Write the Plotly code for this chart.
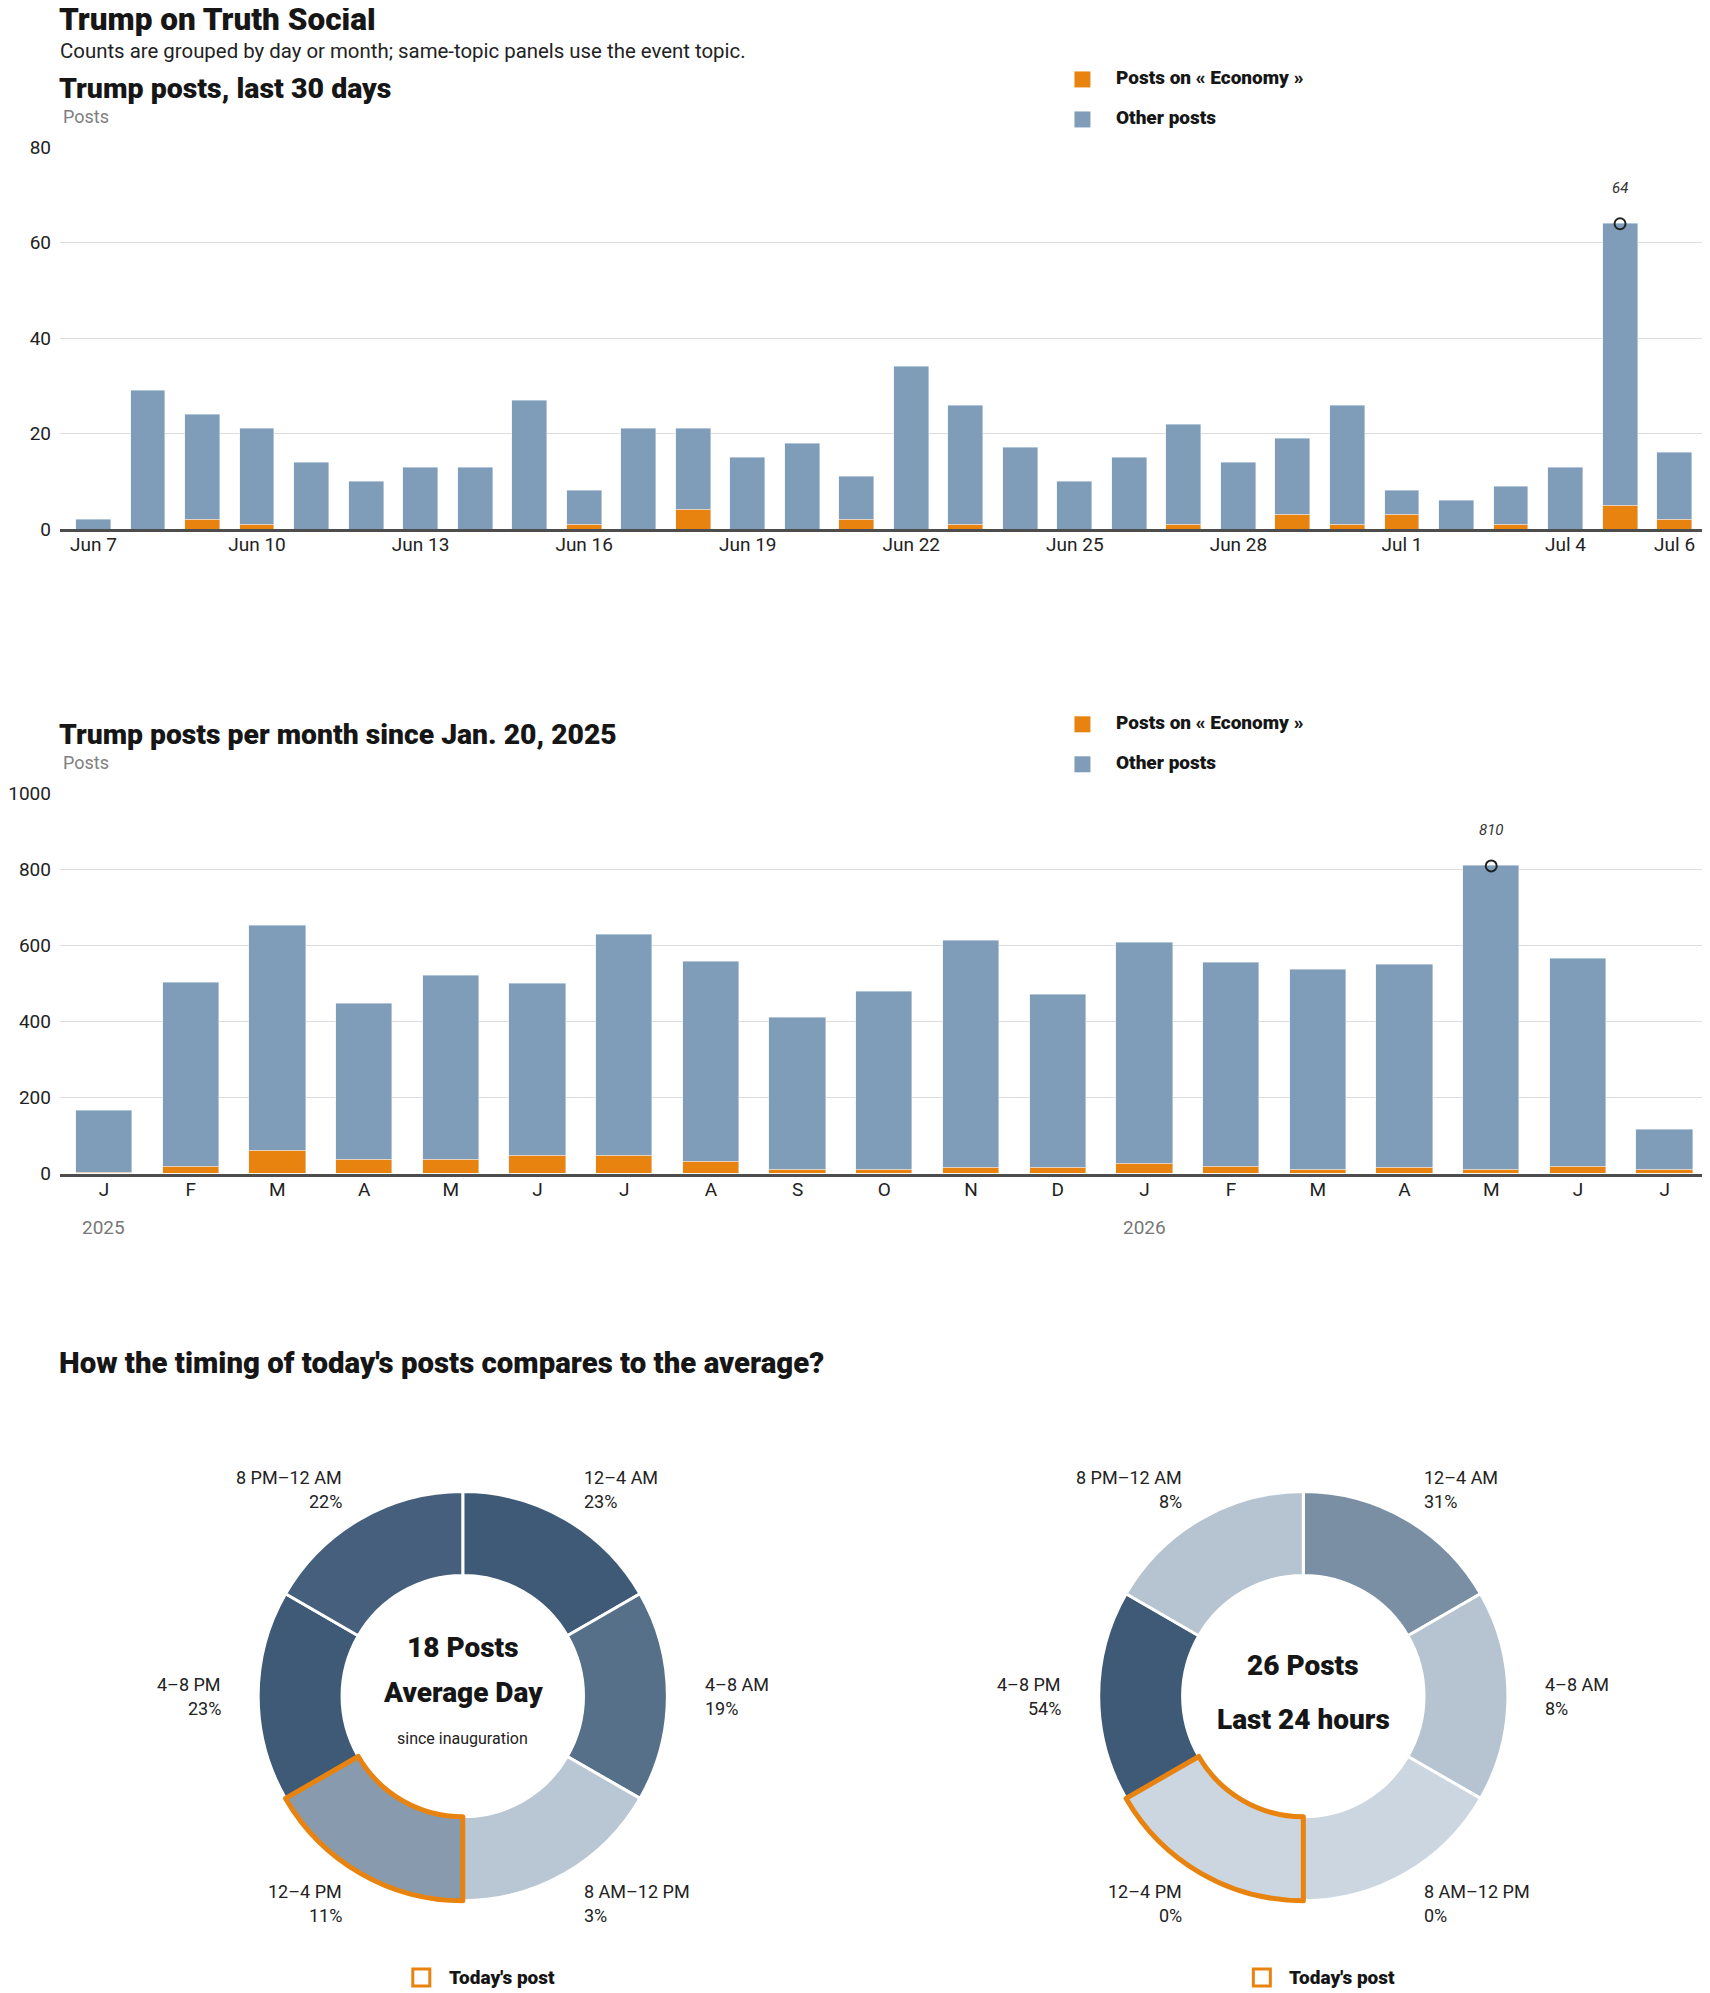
import plotly.graph_objects as go

# ─── Data ────────────────────────────────────────────────────────────────
DAYS = [
    "Jun 7", "Jun 8", "Jun 9", "Jun 10", "Jun 11", "Jun 12", "Jun 13",
    "Jun 14", "Jun 15", "Jun 16", "Jun 17", "Jun 18", "Jun 19", "Jun 20",
    "Jun 21", "Jun 22", "Jun 23", "Jun 24", "Jun 25", "Jun 26", "Jun 27",
    "Jun 28", "Jun 29", "Jun 30", "Jul 1", "Jul 2", "Jul 3", "Jul 4",
    "Jul 5", "Jul 6",
]
DAY_TOTAL = [2, 29, 24, 21, 14, 10, 13, 13, 27, 8, 21, 21, 15, 18, 11,
             34, 26, 17, 10, 15, 22, 14, 19, 26, 8, 6, 9, 13, 64, 16]
DAY_ECON = [0, 0, 2, 1, 0, 0, 0, 0, 0, 1, 0, 4, 0, 0, 2,
            0, 1, 0, 0, 0, 1, 0, 3, 1, 3, 0, 1, 0, 5, 2]
DAY_TICKS = ["Jun 7", "Jun 10", "Jun 13", "Jun 16", "Jun 19", "Jun 22",
             "Jun 25", "Jun 28", "Jul 1", "Jul 4", "Jul 6"]

MONTHS = ["2025-01", "2025-02", "2025-03", "2025-04", "2025-05", "2025-06",
          "2025-07", "2025-08", "2025-09", "2025-10", "2025-11", "2025-12",
          "2026-01", "2026-02", "2026-03", "2026-04", "2026-05", "2026-06",
          "2026-07"]
MONTH_LETTERS = ["J", "F", "M", "A", "M", "J", "J", "A", "S", "O", "N", "D",
                 "J", "F", "M", "A", "M", "J", "J"]
MONTH_TOTAL = [165, 504, 654, 447, 520, 499, 628, 559, 412, 478, 612, 472,
               607, 556, 538, 549, 810, 567, 115]
MONTH_ECON = [2, 20, 60, 36, 38, 49, 49, 32, 10, 10, 16, 16,
              27, 20, 10, 16, 10, 18, 10]
YEARS = ["2025", "2026"]
YEAR_STARTS = ["2025-01", "2026-01"]

SLOTS = ["12–4 AM", "4–8 AM", "8 AM–12 PM", "12–4 PM", "4–8 PM", "8 PM–12 AM"]
AVG_SHARE = [23, 19, 3, 11, 23, 22]
TODAY_SHARE = [31, 8, 0, 0, 54, 8]
AVG_POSTS = 18
TODAY_POSTS = 26
CURRENT_SLOT = "12–4 PM"

# ─── Theme ───────────────────────────────────────────────────────────────
# positions below are in screenshot pixels; fx/fy turn them into figure
# pixels (page body margin + the capture's slight squeeze)
W, H, OFF = 1694, 2000, 8
X0, XS = 2.0, 0.997
Y0, YS = 18.55, 0.9887
ORANGE = "#e8830f"
BLUE = "#7f9db9"
INK = "#161616"
TICK = "#222222"
GRAY = "#808080"
GRID = "#dddddd"
AXIS = "#4d4d4d"
FONT = "Roboto, Arial, sans-serif"
LOW, HIGH = (203, 214, 225), (63, 90, 119)   # donut colour ramp

PLOT_L = 56
PLOT_R = X0 + XS * (W + OFF)                 # right edge of the figure


def fx(x):
    return (x - X0) / XS - OFF


def fy(y):
    return (y - Y0) / YS


def px(x):
    return fx(x) / W


def py(y):
    return 1 - fy(y) / H


def ramp(share, top):
    t = share / top if top else 0
    rgb = [round(a + (b - a) * t) for a, b in zip(LOW, HIGH)]
    return "rgb({},{},{})".format(*rgb)


def band_range(first_center, step):
    left = -(first_center - PLOT_L) / step
    return [left, left + (PLOT_R - PLOT_L) / step]


def text(fig, x, y, s, size, color=INK, weight=400, anchor="left", **kw):
    fig.add_annotation(
        x=px(x), y=py(y), xref="paper", yref="paper", text=s,
        showarrow=False, xanchor=anchor, yanchor="middle",
        font=dict(family=FONT, size=size, color=color, weight=weight), **kw)


def legend(fig, top):
    for i, (name, col) in enumerate([("Posts on « Economy »", ORANGE),
                                     ("Other posts", BLUE)]):
        yc = top + i * 40
        fig.add_shape(type="rect", xref="paper", yref="paper",
                      x0=px(1071), x1=px(1087), y0=py(yc - 8), y1=py(yc + 8),
                      fillcolor=col, line_width=0)
        text(fig, 1111, yc - 2, name, 19, weight=900)


fig = go.Figure()

# ─── Daily bars ──────────────────────────────────────────────────────────
day_other = [t - e for t, e in zip(DAY_TOTAL, DAY_ECON)]
fig.add_trace(go.Bar(x=DAYS, y=DAY_ECON, marker_color=ORANGE, width=0.64,
                     name="Posts on « Economy »", xaxis="x", yaxis="y"))
fig.add_trace(go.Bar(x=DAYS, y=day_other, marker_color=BLUE, width=0.64,
                     name="Other posts", xaxis="x", yaxis="y"))

# ─── Monthly bars ────────────────────────────────────────────────────────
month_other = [t - e for t, e in zip(MONTH_TOTAL, MONTH_ECON)]
fig.add_trace(go.Bar(x=MONTHS, y=MONTH_ECON, marker_color=ORANGE, width=0.65,
                     name="Posts on « Economy »", xaxis="x2", yaxis="y2"))
fig.add_trace(go.Bar(x=MONTHS, y=month_other, marker_color=BLUE, width=0.65,
                     name="Other posts", xaxis="x2", yaxis="y2"))

# peak markers + labels
for xs, ys, xa, ya in [(DAYS, DAY_TOTAL, "x", "y"),
                       (MONTHS, MONTH_TOTAL, "x2", "y2")]:
    k = ys.index(max(ys))
    fig.add_trace(go.Scatter(
        x=[xs[k]], y=[ys[k]], mode="markers", xaxis=xa, yaxis=ya,
        marker=dict(symbol="circle-open", size=11, color="#222",
                    line=dict(width=2, color="#222")),
        hoverinfo="skip"))
    fig.add_annotation(x=xs[k], y=ys[k], xref=xa, yref=ya,
                       text=f"<i>{ys[k]}</i>", showarrow=False, yshift=36,
                       font=dict(family=FONT, size=15, color="#333"))

# ─── Donuts ──────────────────────────────────────────────────────────────
R = 207                                      # figure pixels
LABEL_POS = [(119, -219, "left"), (240, -12, "left"), (119, 195, "left"),
             (-119, 195, "right"), (-240, -12, "right"), (-119, -219, "right")]
cur = SLOTS.index(CURRENT_SLOT)

for cx, shares in [(459, AVG_SHARE), (1300, TODAY_SHARE)]:
    cy = 1696
    dom = dict(x=[px(cx) - R / W, px(cx) + R / W],
               y=[py(cy) - R / H, py(cy) + R / H])
    top = max(shares)
    fig.add_trace(go.Pie(
        labels=SLOTS, values=[1] * len(SLOTS), customdata=shares,
        sort=False, direction="clockwise", rotation=0, hole=0.59,
        textinfo="none", domain=dom,
        marker=dict(colors=[ramp(s, top) for s in shares],
                    line=dict(color="white", width=3)),
        hovertemplate="%{label}: %{customdata}%<extra></extra>"))
    # orange outline on the current time slot
    fig.add_trace(go.Pie(
        labels=SLOTS, values=[1] * len(SLOTS), sort=False,
        direction="clockwise", rotation=0, hole=0.59, textinfo="none",
        domain=dom, hoverinfo="skip",
        marker=dict(colors=["rgba(0,0,0,0)"] * len(SLOTS),
                    line=dict(color=[ORANGE if i == cur else "rgba(0,0,0,0)"
                                     for i in range(len(SLOTS))],
                              width=[5 if i == cur else 0
                                     for i in range(len(SLOTS))]))))
    for (dx, dy, anchor), slot, s in zip(LABEL_POS, SLOTS, shares):
        text(fig, cx + dx, cy + dy, slot, 18, color="#222", anchor=anchor)
        text(fig, cx + dx, cy + dy + 24, f"{s}%", 18, color="#222",
             anchor=anchor)
    # "Today's post" key
    fig.add_shape(type="rect", xref="paper", yref="paper",
                  x0=px(cx - 50), x1=px(cx - 33), y0=py(1986), y1=py(1969),
                  fillcolor="rgba(0,0,0,0)", line=dict(color=ORANGE, width=3))
    text(fig, cx - 16, 1977, "Today's post", 19, weight=900)

text(fig, 459, 1647, f"{AVG_POSTS} Posts", 28, weight=900, anchor="center")
text(fig, 459, 1692, "Average Day", 28, weight=900, anchor="center")
text(fig, 459, 1738, "since inauguration", 16, color="#222", anchor="center")
text(fig, 1300, 1665, f"{TODAY_POSTS} Posts", 28, weight=900, anchor="center")
text(fig, 1300, 1719, "Last 24 hours", 28, weight=900, anchor="center")

# ─── Titles / labels ─────────────────────────────────────────────────────
text(fig, 53, 19, "Trump on Truth Social", 31.5, weight=900)
text(fig, 54, 51, "Counts are grouped by day or month; same-topic panels use "
     "the event topic.", 20.4, color="#222")
text(fig, 53, 88, "Trump posts, last 30 days", 28.5, weight=900)
text(fig, 57, 116, "Posts", 18, color=GRAY)
legend(fig, 79)

text(fig, 53, 734, "Trump posts per month since Jan. 20, 2025", 28.3,
     weight=900)
text(fig, 57, 762, "Posts", 18, color=GRAY)
legend(fig, 724)
for yr, start in zip(YEARS, YEAR_STARTS):
    fig.add_annotation(x=start, y=py(1227), xref="x2", yref="paper",
                       text=yr, showarrow=False,
                       font=dict(family=FONT, size=19, color="#777"))

text(fig, 53, 1363, "How the timing of today's posts compares to the "
     "average?", 29.4, weight=900)

# ─── Layout ──────────────────────────────────────────────────────────────
yax = dict(gridcolor=GRID, gridwidth=1, zeroline=False, showline=False,
           ticks="", ticklabelstandoff=8,
           tickfont=dict(family=FONT, size=19, color=TICK))
xax = dict(type="category", showgrid=False, showline=True, linecolor=AXIS,
           linewidth=3, ticks="", ticklabelstandoff=-4,
           tickfont=dict(family=FONT, size=19, color=TICK))
x_dom = [px(PLOT_L), 1.0]

fig.update_layout(
    width=W, height=H,
    margin=dict(l=0, r=0, t=0, b=0),
    paper_bgcolor="white", plot_bgcolor="white",
    showlegend=False, barmode="stack", bargap=0,
    xaxis=dict(xax, domain=x_dom, anchor="y", range=band_range(89.5, 54.55),
               tickvals=DAY_TICKS, ticktext=DAY_TICKS),
    yaxis=dict(yax, domain=[py(528.6), py(147)], anchor="x", range=[0, 80],
               dtick=20),
    xaxis2=dict(xax, domain=x_dom, anchor="y2",
                range=band_range(100, 86.75),
                tickvals=MONTHS, ticktext=MONTH_LETTERS),
    yaxis2=dict(yax, domain=[py(1173.6), py(793.4)], anchor="x2",
                range=[0, 1000], dtick=200),
)

fig.write_html("out.html")
